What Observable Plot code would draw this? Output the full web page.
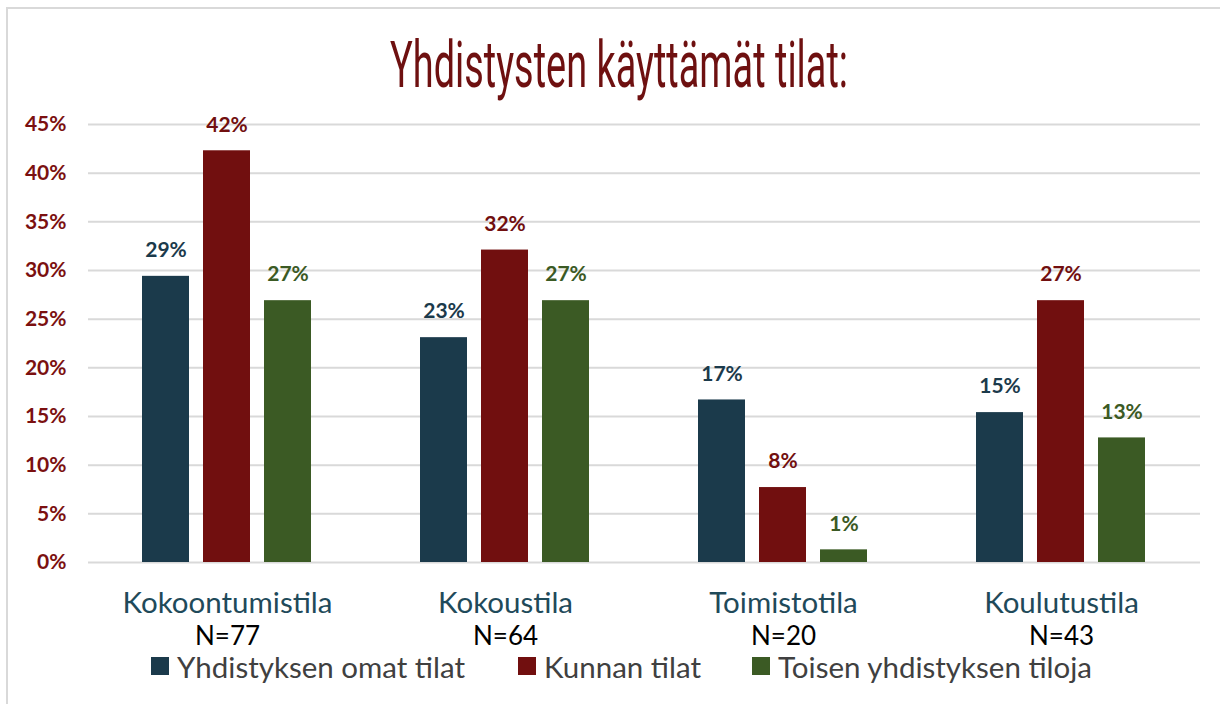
<!DOCTYPE html>
<html>
<head>
<meta charset="utf-8">
<script src="https://cdn.jsdelivr.net/npm/d3@7"></script>
<script src="https://cdn.jsdelivr.net/npm/@observablehq/plot@0.6"></script>
<style>
  html, body { margin: 0; padding: 0; background: #fff; width: 1220px; height: 704px; overflow: hidden; }
  #frame { position: absolute; left: 6px; top: 7px; width: 1300px; height: 800px; border-top: 2px solid #d9d9d9; border-left: 2px solid #d9d9d9; }
  #title { position: absolute; left: 0; top: 0; width: 1220px; height: 115px; }
  #chart { position: absolute; left: 0; top: 100px; }
  #legend { position: absolute; left: 0; top: 648px; width: 1220px; height: 36px; font-family: Lato, sans-serif; font-size: 29.5px; color: #404040; }
  .item { position: absolute; top: 0; height: 36px; display: flex; align-items: center; white-space: nowrap; }
  .sw { width: 18px; height: 18px; margin-right: 8px; display: inline-block; }
</style>
</head>
<body>
<div id="frame"></div>
<div id="title"></div>
<div id="chart"></div>
<div id="legend"></div>
<script>
const titleText = "Yhdistysten käyttämät tilat:";
const categories = ["Kokoontumistila", "Kokoustila", "Toimistotila", "Koulutustila"];
const nLabels = ["N=77", "N=64", "N=20", "N=43"];
const series = ["Yhdistyksen omat tilat", "Kunnan tilat", "Toisen yhdistyksen tiloja"];
const omatTilat = [29.4, 23.1, 16.7, 15.4];
const kunnanTilat = [42.3, 32.1, 7.7, 26.9];
const toisenTiloja = [26.9, 26.9, 1.3, 12.8];
const yTicks = [0, 5, 10, 15, 20, 25, 30, 35, 40, 45];
const colors = ["#1b3a4b", "#710f0f", "#3b5a24"];

const seriesValues = [omatTilat, kunnanTilat, toisenTiloja];
const data = [];
categories.forEach((c, i) => {
  series.forEach((s, j) => data.push({cat: c, series: s, value: seriesValues[j][i]}));
});
const catInfo = categories.map((c, i) => ({cat: c, n: nLabels[i]}));

// Title (condensed look)
const tsvg = d3.select("#title").append("svg").attr("width", 1220).attr("height", 115);
const targetW = 458, cx = 619;
tsvg.append("text")
  .attr("x", cx - targetW / 2).attr("y", 87)
  .attr("font-family", "Roboto, DejaVu Sans, sans-serif")
  .attr("font-weight", 400)
  .attr("font-size", 64)
  .attr("fill", "#6e1010")
  .attr("textLength", targetW)
  .attr("lengthAdjust", "spacingAndGlyphs")
  .text(titleText);

const plot = Plot.plot({
  width: 1220,
  height: 550,
  marginLeft: 88,
  marginRight: 20,
  marginTop: 24,
  marginBottom: 88,
  style: {fontFamily: "Lato, sans-serif", background: "transparent", overflow: "visible"},
  fx: {domain: categories, padding: 0, axis: null},
  x: {domain: series, paddingInner: 0.222, paddingOuter: 0.864, axis: null},
  y: {domain: [0, 45], axis: null},
  color: {domain: series, range: colors},
  marks: [
    Plot.gridY(yTicks, {stroke: "#d9d9d9", strokeOpacity: 1, strokeWidth: 2}),
    Plot.axisY(yTicks, {tickSize: 0, tickPadding: 22, tickFormat: d => d + "%", fontSize: 21, fontWeight: "bold", fill: "#7b1010", label: null}),
    Plot.barY(data, {fx: "cat", x: "series", y: "value", fill: "series"}),
    Plot.text(data, {fx: "cat", x: "series", y: "value", text: d => Math.round(d.value) + "%", fill: "series", dy: -26, fontSize: 21, fontWeight: "bold"}),
    Plot.text(catInfo, {fx: "cat", text: "cat", frameAnchor: "bottom", dy: 50, fontSize: 29.5, fill: "#1f4a5a"}),
    Plot.text(catInfo, {fx: "cat", text: "n", frameAnchor: "bottom", dy: 82, fontSize: 26, fill: "#000"})
  ]
});
document.getElementById("chart").appendChild(plot);

// Legend
const leg = document.getElementById("legend");
const legendLeft = [151, 518, 752];
series.forEach((s, i) => {
  const it = document.createElement("div");
  it.className = "item";
  it.style.left = legendLeft[i] + "px";
  const sw = document.createElement("span");
  sw.className = "sw";
  sw.style.background = colors[i];
  const tx = document.createElement("span");
  tx.textContent = s;
  it.appendChild(sw); it.appendChild(tx);
  leg.appendChild(it);
});
</script>
</body>
</html>
